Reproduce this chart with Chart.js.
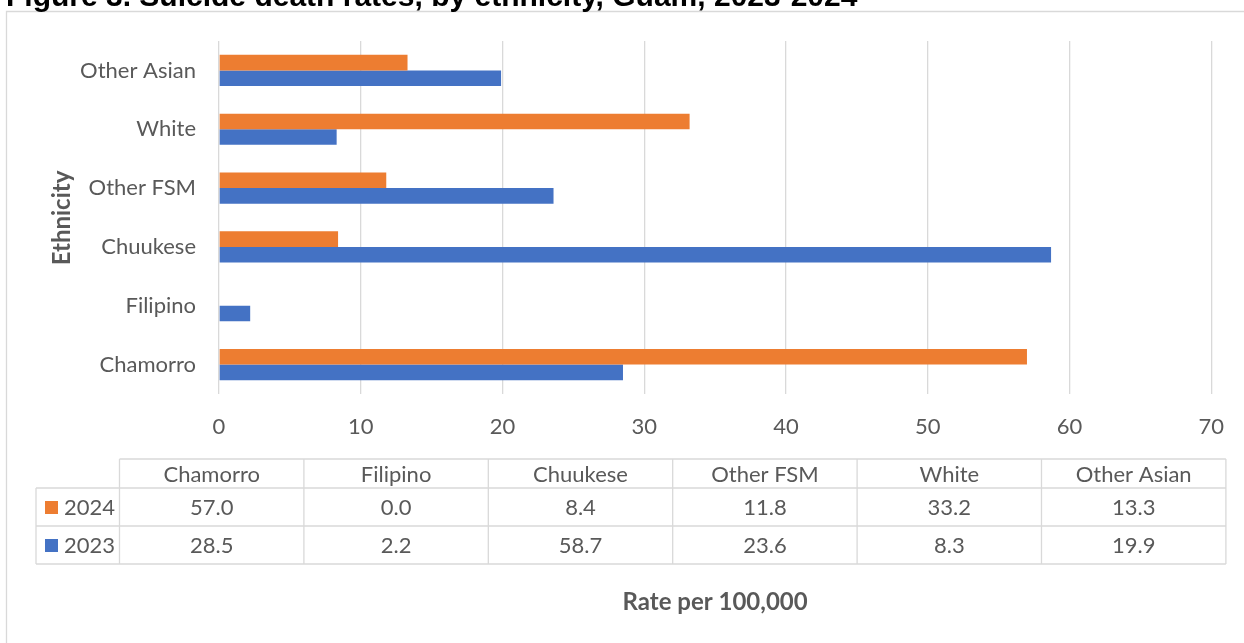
<!DOCTYPE html>
<html>
<head>
<meta charset="utf-8">
<script src="https://cdn.jsdelivr.net/npm/chart.js@4/dist/chart.umd.min.js"></script>
<style>
  html, body { margin: 0; padding: 0; background: #fff; }
  #wrap { width: 1244px; height: 643px; position: relative; overflow: hidden; }
</style>
</head>
<body>
<div id="wrap"><canvas id="myChart" width="1244" height="643"></canvas></div>
<script>
// Suicide death rates per 100,000 by ethnicity
var ethnicities = ['Chamorro', 'Filipino', 'Chuukese', 'Other FSM', 'White', 'Other Asian'];
var years = ['2024', '2023'];
var rates2024 = [57.0, 0.0, 8.4, 11.8, 33.2, 13.3];
var rates2023 = [28.5, 2.2, 58.7, 23.6, 8.3, 19.9];
var xTicks = [0, 10, 20, 30, 40, 50, 60, 70];

var orange = '#ED7D31';
var blue = '#4472C4';
var gridColor = '#d9d9d9';
var textColor = '#595959';
var font = 'Lato';

// Title, axis titles, frame and the data table under the axis
var extras = {
    id: 'extras',
    afterDraw: function(chart) {
        var ctx = chart.ctx;
        var area = chart.chartArea;
        ctx.save();

        // frame
        ctx.strokeStyle = gridColor;
        ctx.lineWidth = 1.3;
        ctx.beginPath();
        ctx.moveTo(6.5, 660);
        ctx.lineTo(6.5, 11.5);
        ctx.lineTo(1260, 11.5);
        ctx.stroke();

        // figure title, mostly above the top edge
        ctx.fillStyle = '#000';
        ctx.font = 'bold 30px "Liberation Sans", Arial, sans-serif';
        ctx.textAlign = 'left';
        ctx.textBaseline = 'alphabetic';
        ctx.fillText('Figure 3. Suicide death rates, by ethnicity, Guam, 2023-2024', 6, 6);

        // axis titles
        ctx.fillStyle = textColor;
        ctx.font = 'bold 24px ' + font;
        ctx.textAlign = 'center';
        ctx.textBaseline = 'middle';
        ctx.fillText('Rate per 100,000', (area.left + area.right) / 2, 602);
        ctx.save();
        ctx.translate(62, 218);
        ctx.rotate(-Math.PI / 2);
        ctx.fillText('Ethnicity', 0, 0);
        ctx.restore();

        // data table
        var colLeft = 119.5, colW = 184.4, legLeft = 36;
        var rowTops = [459, 488, 526, 564];
        var right = colLeft + colW * ethnicities.length;
        ctx.strokeStyle = gridColor;
        ctx.lineWidth = 1.3;
        ctx.beginPath();
        ctx.moveTo(colLeft, rowTops[0]); ctx.lineTo(right, rowTops[0]);
        for (var r = 1; r < rowTops.length; r++) {
            ctx.moveTo(legLeft, rowTops[r]); ctx.lineTo(right, rowTops[r]);
        }
        ctx.moveTo(legLeft, rowTops[1]); ctx.lineTo(legLeft, rowTops[3]);
        for (var c = 0; c <= ethnicities.length; c++) {
            var x = colLeft + colW * c;
            ctx.moveTo(x, rowTops[0]); ctx.lineTo(x, rowTops[3]);
        }
        ctx.stroke();

        ctx.font = '22px ' + font;
        ctx.fillStyle = textColor;
        ctx.textAlign = 'center';
        ethnicities.forEach(function(name, i) {
            ctx.fillText(name, colLeft + colW * (i + 0.5), (rowTops[0] + rowTops[1]) / 2 + 1);
        });
        var rows = [rates2024, rates2023];
        var colors = [orange, blue];
        rows.forEach(function(vals, r) {
            var cy = (rowTops[r + 1] + rowTops[r + 2]) / 2 + 1;
            vals.forEach(function(v, i) {
                ctx.fillStyle = textColor;
                ctx.textAlign = 'center';
                ctx.fillText(v.toFixed(1), colLeft + colW * (i + 0.5), cy);
            });
            ctx.fillStyle = colors[r];
            ctx.fillRect(45, cy - 7, 13, 13);
            ctx.fillStyle = textColor;
            ctx.textAlign = 'left';
            ctx.fillText(years[r], 64, cy);
        });

        ctx.restore();
    }
};

var ctx = document.getElementById('myChart').getContext('2d');
var myChart = new Chart(ctx, {
    type: 'bar',
    data: {
        labels: ethnicities,
        datasets: [
            { label: years[0], data: rates2024, backgroundColor: orange },
            { label: years[1], data: rates2023, backgroundColor: blue }
        ]
    },
    options: {
        indexAxis: 'y',
        responsive: false,
        animation: false,
        devicePixelRatio: 1,
        categoryPercentage: 0.53,
        barPercentage: 1,
        layout: { padding: { top: 41, right: 31, bottom: 0, left: 0 } },
        plugins: {
            legend: { display: false },
            tooltip: { enabled: false }
        },
        scales: {
            x: {
                min: 0,
                max: 70,
                afterBuildTicks: function(scale) {
                    scale.ticks = xTicks.map(function(v) { return { value: v }; });
                },
                afterFit: function(scale) { scale.height = 249; },
                grid: { color: gridColor, lineWidth: 1.3, drawTicks: false },
                border: { display: false },
                ticks: { color: textColor, font: { family: font, size: 22 }, padding: 20 }
            },
            y: {
                reverse: true,
                afterFit: function(scale) { scale.width = 219; },
                grid: { display: false, drawTicks: false },
                border: { display: false },
                ticks: { color: textColor, font: { family: font, size: 22 }, padding: 23 }
            }
        }
    },
    plugins: [extras]
});
</script>
</body>
</html>
